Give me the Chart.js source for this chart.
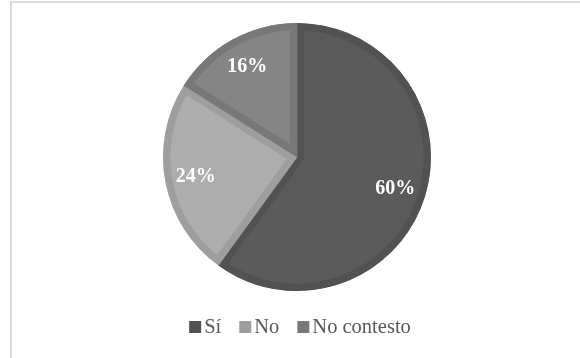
<!DOCTYPE html>
<html>
<head>
<meta charset="utf-8">
<script src="https://cdn.jsdelivr.net/npm/chart.js@4.4.1/dist/chart.umd.min.js"></script>
<style>
  html, body { margin: 0; padding: 0; background: #fff; overflow: hidden; }
  #wrap { position: relative; width: 580px; height: 358px; }
  #frame { position: absolute; left: 10px; top: 1px; width: 600px; height: 400px; border: 2px solid #d9d9d9; box-sizing: border-box; }
  #pieChart { position: absolute; left: 0; top: 0; }
</style>
</head>
<body>
<div id="wrap">
  <div id="frame"></div>
  <canvas id="pieChart" width="580" height="358"></canvas>
</div>
<script>
const labels = ["Sí", "No", "No contesto"];
const values = [60, 24, 16];
const fillColors = ["#5b5b5b", "#adadad", "#858585"];
const edgeColors = ["#525252", "#9e9e9e", "#787878"];

// percent text inside each slice
const sliceLabels = {
  id: "sliceLabels",
  afterDatasetsDraw(chart) {
    const ctx = chart.ctx;
    const meta = chart.getDatasetMeta(0);
    const total = values.reduce((a, b) => a + b, 0);
    ctx.save();
    ctx.font = "bold 20px 'Liberation Serif', 'Times New Roman', serif";
    ctx.fillStyle = "#ffffff";
    ctx.textAlign = "center";
    ctx.textBaseline = "middle";
    meta.data.forEach((arc, i) => {
      const p = arc.getProps(["x", "y", "startAngle", "endAngle", "outerRadius"], true);
      const mid = (p.startAngle + p.endAngle) / 2;
      const r = p.outerRadius * 0.77;
      const pct = Math.round(values[i] / total * 100) + "%";
      ctx.fillText(pct, p.x + Math.cos(mid) * r, p.y + Math.sin(mid) * r);
    });
    ctx.restore();
  }
};

// legend row under the pie
const bottomLegend = {
  id: "bottomLegend",
  afterDraw(chart) {
    const ctx = chart.ctx;
    const box = 12, gapBox = 3, gapItem = 18;
    ctx.save();
    ctx.font = "20.5px 'Liberation Serif', 'Times New Roman', serif";
    ctx.textBaseline = "middle";
    let widths = labels.map(l => ctx.measureText(l).width);
    let total = widths.reduce((a, w) => a + box + gapBox + w, 0) + gapItem * (labels.length - 1);
    let x = 300 - total / 2;
    const y = 327;
    labels.forEach((l, i) => {
      ctx.fillStyle = edgeColors[i];
      ctx.fillRect(x, y - box / 2, box, box);
      x += box + gapBox;
      ctx.fillStyle = "#595959";
      ctx.fillText(l, x, y + 1);
      x += widths[i] + gapItem;
    });
    ctx.restore();
  }
};

new Chart(document.getElementById("pieChart").getContext("2d"), {
  type: "pie",
  data: {
    labels: labels,
    datasets: [{
      data: values,
      backgroundColor: fillColors,
      borderColor: edgeColors,
      borderWidth: 7,
      borderAlign: "inner",
      hoverOffset: 0
    }]
  },
  options: {
    responsive: false,
    animation: false,
    radius: 134,
    layout: { padding: { left: 14, right: 0, top: 24, bottom: 68 } },
    plugins: {
      legend: { display: false },
      tooltip: { enabled: false }
    }
  },
  plugins: [sliceLabels, bottomLegend]
});
</script>
</body>
</html>
